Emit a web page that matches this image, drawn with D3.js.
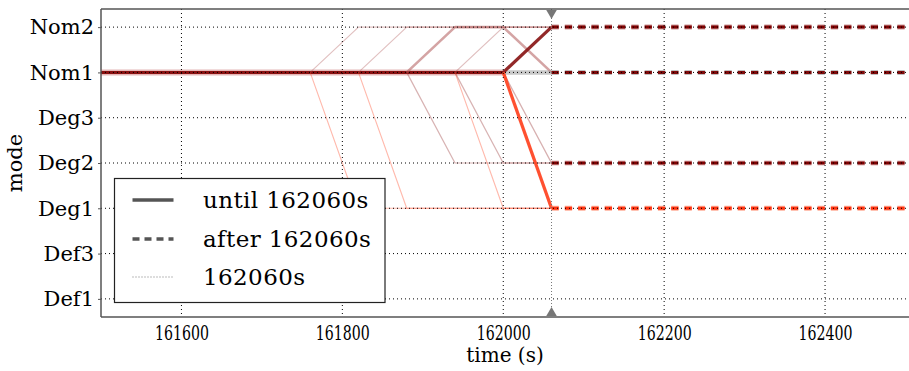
<!DOCTYPE html>
<html><head><meta charset="utf-8">
<script src="https://cdn.jsdelivr.net/npm/d3@7"></script>
<style>
html,body{margin:0;padding:0;background:#fff;}
svg{display:block;}
text{font-family:"DejaVu Serif",serif;fill:#000;}
</style></head>
<body>
<svg id="c" width="909" height="371"></svg>
<script>
// ---------- data ----------
const modes = ["Def1","Def3","Deg1","Deg2","Deg3","Nom1","Nom2"];
const xTicks = [161600,161800,162000,162200,162400];
const xDomain = [161500,162515];
const now = 162060;
// history (common path before the branches)
const histTimes = [161500,162000];
const histModes = ["Nom1","Nom1"];
// hypotheses: trajectories up to "now"
const hypTimes = [
  [161760,161820,162060],
  [161760,161820,162060],
  [161820,161880,162060],
  [161820,161880,162060],
  [161880,161940,162000,162060],
  [161880,161940,162060],
  [161940,162000,162060],
  [161940,162000,162060],
  [161940,162000,162060],
  [162000,162060],
  [162000,162060],
  [162000,162060],
  [162000,162060]
];
const hypModes = [
  ["Nom1","Nom2","Nom2"],
  ["Nom1","Deg1","Deg1"],
  ["Nom1","Nom2","Nom2"],
  ["Nom1","Deg1","Deg1"],
  ["Nom1","Nom2","Nom2","Nom1"],
  ["Nom1","Deg2","Deg2"],
  ["Nom1","Nom2","Nom2"],
  ["Nom1","Deg2","Deg2"],
  ["Nom1","Deg1","Deg1"],
  ["Nom1","Nom1"],
  ["Nom1","Deg2"],
  ["Nom1","Nom2"],
  ["Nom1","Deg1"]
];
const hypProb = [0.05,0.04,0.05,0.04,0.3,0.06,0.06,0.06,0.04,0.3,0.08,0.9,0.9];
// predictions after "now"
const afterModes = ["Nom1","Deg2","Nom2","Deg1"];
const legendLabels = ["until 162060s","after 162060s","162060s"];

// ---------- styles ----------
const modeColor = {Nom2:"#8b1a1a", Nom1:"#9a9a9a", Deg2:"#9a3a3a", Deg1:"#ff4422"};
const afterColor = {Nom2:"#7f0000", Nom1:"#7f0a0a", Deg2:"#7f0000", Deg1:"#ff3311"};
const afterHalo = {Nom2:"#c08080", Nom1:"#b0b0b0", Deg2:"#d8a8a8", Deg1:"#ff9a80"};

const svg = d3.select("#c");
const W = 909, H = 371;
const m = {left:101, top:9, bottom:317};
const x = d3.scaleLinear().domain(xDomain).range([m.left, m.left + (xDomain[1]-xDomain[0])*0.8045]);
const y = d3.scaleLinear().domain([-0.4, 6.4]).range([m.bottom, m.top]);
const ym = md => y(modes.indexOf(md));

svg.append("defs").append("clipPath").attr("id","plotclip")
  .append("rect").attr("x",m.left).attr("y",m.top).attr("width",W-m.left).attr("height",m.bottom-m.top);
const plot = svg.append("g").attr("clip-path","url(#plotclip)");

const line = d3.line().x(d=>x(d[0])).y(d=>ym(d[1]));

// history line
const hist = histTimes.map((t,i)=>[t,histModes[i]]);
plot.append("path").attr("d",line(hist)).attr("fill","none")
  .attr("stroke","#e4b8b8").attr("stroke-width",6);
plot.append("path").attr("d",line(hist)).attr("fill","none")
  .attr("stroke","#8a1212").attr("stroke-width",3);

// hypotheses
const wScale = d3.scaleLinear().domain([0,0.3,1]).range([0.9,2.6,3.4]).clamp(true);
const oScale = d3.scaleLinear().domain([0,0.3,1]).range([0.35,0.55,1]).clamp(true);
hypTimes.forEach((ts,i)=>{
  const pts = ts.map((t,j)=>[t,hypModes[i][j]]);
  const ms = hypModes[i];
  const fin = ms[ms.length-1];
  const direct = ms.length===2;
  let col = modeColor[fin];
  if (!direct && (fin==="Nom1" || fin==="Nom2")) col = "#b05a5a";
  plot.append("path").attr("d",line(pts)).attr("fill","none")
    .attr("stroke",col)
    .attr("stroke-width", fin==="Nom1" && direct ? 4.5 : wScale(hypProb[i]))
    .attr("stroke-opacity", oScale(hypProb[i]))
    .attr("stroke-linejoin","round");
});

// predictions after now (dashed)
afterModes.forEach((md,i)=>{
  const pts = [[now,md],[xDomain[1],md]];
  plot.append("path").attr("d",line(pts)).attr("fill","none")
    .attr("stroke",afterHalo[md]).attr("stroke-width",5)
    .attr("stroke-dasharray","7.3,6").attr("stroke-opacity",0.8);
  plot.append("path").attr("d",line(pts)).attr("fill","none")
    .attr("stroke",afterColor[md]).attr("stroke-width",3)
    .attr("stroke-dasharray","7.3,6");
});

// grid (on top)
const grid = svg.append("g").attr("clip-path","url(#plotclip)");
xTicks.forEach(t=>{
  grid.append("line").attr("x1",x(t)).attr("x2",x(t)).attr("y1",m.top).attr("y2",m.bottom)
    .attr("stroke","#000").attr("stroke-width",1).attr("stroke-dasharray","1,3");
});
modes.forEach(md=>{
  grid.append("line").attr("x1",m.left).attr("x2",W).attr("y1",ym(md)).attr("y2",ym(md))
    .attr("stroke","#000").attr("stroke-width",1).attr("stroke-dasharray","1,3");
});
// "now" line
grid.append("line").attr("x1",x(now)).attr("x2",x(now)).attr("y1",m.top).attr("y2",m.bottom)
  .attr("stroke","#777").attr("stroke-width",1).attr("stroke-dasharray","1,2");

// triangles at now
svg.append("path").attr("d",d3.symbol(d3.symbolTriangle,48)())
  .attr("transform",`translate(${x(now)},${m.top+4}) rotate(180)`).attr("fill","#777");
svg.append("path").attr("d",d3.symbol(d3.symbolTriangle,48)())
  .attr("transform",`translate(${x(now)},${m.bottom-4})`).attr("fill","#777");

// spines
svg.append("line").attr("x1",m.left).attr("x2",m.left).attr("y1",m.top).attr("y2",m.bottom)
  .attr("stroke","#555").attr("stroke-width",1.5);
svg.append("line").attr("x1",m.left).attr("x2",W).attr("y1",m.top).attr("y2",m.top)
  .attr("stroke","#555").attr("stroke-width",1.5);
svg.append("line").attr("x1",m.left).attr("x2",W).attr("y1",m.bottom).attr("y2",m.bottom)
  .attr("stroke","#555").attr("stroke-width",1.5);

// axes
const yAxis = d3.axisLeft(y).tickValues(d3.range(modes.length)).tickFormat(i=>modes[i]).tickSize(3).tickPadding(4);
const ya = svg.append("g").attr("transform",`translate(${m.left},0)`).call(yAxis);
ya.select(".domain").remove();
ya.selectAll(".tick line").attr("stroke","#555");
ya.selectAll("text").attr("font-size","21px").attr("font-family","DejaVu Serif");

const xAxis = d3.axisBottom(x).tickValues(xTicks).tickFormat(d3.format("d")).tickSize(0).tickPadding(9);
const xa = svg.append("g").attr("transform",`translate(0,${m.bottom})`).call(xAxis);
xa.select(".domain").remove();
xa.selectAll("text").attr("font-size","20px").attr("font-family","DejaVu Serif")
  .attr("textLength",54).attr("lengthAdjust","spacingAndGlyphs");

svg.append("text").attr("x",505).attr("y",362).attr("text-anchor","middle")
  .attr("font-size","20px").text("time (s)");
svg.append("text").attr("transform","translate(22,163) rotate(-90)").attr("text-anchor","middle")
  .attr("font-size","21px").text("mode");

// legend
const lg = svg.append("g");
lg.append("rect").attr("x",114.5).attr("y",178.5).attr("width",270.5).attr("height",124)
  .attr("fill","#fff").attr("stroke","#222").attr("stroke-width",1.2);
const rowsY = [200,239,277];
const lstyles = [
  {w:3.5, dash:null, c:"#555"},
  {w:3.5, dash:"7,5", c:"#555"},
  {w:1, dash:"1,2", c:"#777"}
];
legendLabels.forEach((lab,i)=>{
  lg.append("line").attr("x1",132.5).attr("x2",173.5).attr("y1",rowsY[i]).attr("y2",rowsY[i])
    .attr("stroke",lstyles[i].c).attr("stroke-width",lstyles[i].w)
    .attr("stroke-dasharray",lstyles[i].dash);
  lg.append("text").attr("x",203).attr("y",rowsY[i]).attr("dy","0.35em")
    .attr("font-size","23px").attr("letter-spacing","0.4px").text(lab);
});
</script>
</body></html>
